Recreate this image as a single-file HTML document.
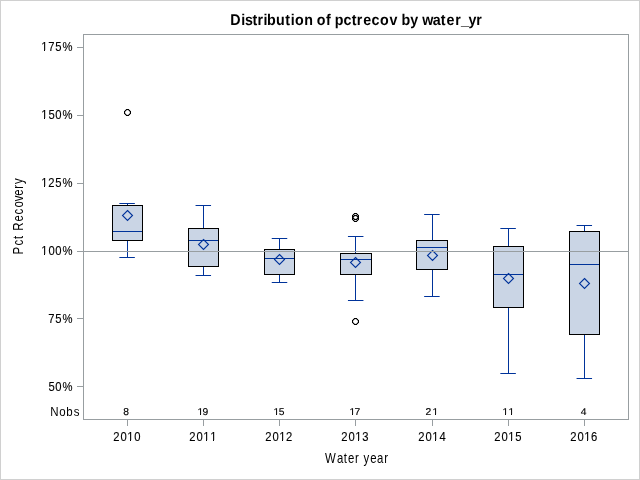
<!DOCTYPE html>
<html><head><meta charset="utf-8"><title>Distribution of pctrecov by water_yr</title>
<style>html,body{margin:0;padding:0;background:#fff;overflow:hidden}svg{display:block;will-change:transform}</style></head>
<body><svg width="640" height="480" viewBox="0 0 640 480">
<rect x="0.5" y="0.5" width="639" height="479" fill="#fff" stroke="#d0d0d0" stroke-width="1"/>
<line x1="127.5" y1="203.5" x2="127.5" y2="205" stroke="#00339a"/>
<line x1="127.5" y1="241" x2="127.5" y2="257.5" stroke="#00339a"/>
<line x1="119.35" y1="203.5" x2="134.85" y2="203.5" stroke="#00339a"/>
<line x1="119.35" y1="257.5" x2="134.85" y2="257.5" stroke="#00339a"/>
<rect x="112.5" y="205.5" width="30" height="35" fill="#cad5e5" stroke="#000"/>
<line x1="113" y1="231.5" x2="142" y2="231.5" stroke="#00339a"/>
<path d="M127.5 210.5L132.5 215.5L127.5 220.5L122.5 215.5Z" fill="none" stroke="#00339a" stroke-width="1.1"/>
<line x1="203.5" y1="205.5" x2="203.5" y2="228" stroke="#00339a"/>
<line x1="203.5" y1="267" x2="203.5" y2="275.5" stroke="#00339a"/>
<line x1="195.55" y1="205.5" x2="211.05" y2="205.5" stroke="#00339a"/>
<line x1="195.55" y1="275.5" x2="211.05" y2="275.5" stroke="#00339a"/>
<rect x="188.5" y="228.5" width="30" height="38" fill="#cad5e5" stroke="#000"/>
<line x1="189" y1="240.5" x2="218" y2="240.5" stroke="#00339a"/>
<path d="M203.5 239.5L208.5 244.5L203.5 249.5L198.5 244.5Z" fill="none" stroke="#00339a" stroke-width="1.1"/>
<line x1="279.5" y1="238.5" x2="279.5" y2="249" stroke="#00339a"/>
<line x1="279.5" y1="275" x2="279.5" y2="282.5" stroke="#00339a"/>
<line x1="271.75" y1="238.5" x2="287.25" y2="238.5" stroke="#00339a"/>
<line x1="271.75" y1="282.5" x2="287.25" y2="282.5" stroke="#00339a"/>
<rect x="264.5" y="249.5" width="30" height="25" fill="#cad5e5" stroke="#000"/>
<line x1="265" y1="258.5" x2="294" y2="258.5" stroke="#00339a"/>
<path d="M279.5 254.5L284.5 259.5L279.5 264.5L274.5 259.5Z" fill="none" stroke="#00339a" stroke-width="1.1"/>
<line x1="355.5" y1="236.5" x2="355.5" y2="253" stroke="#00339a"/>
<line x1="355.5" y1="275" x2="355.5" y2="300.5" stroke="#00339a"/>
<line x1="347.95" y1="236.5" x2="363.45" y2="236.5" stroke="#00339a"/>
<line x1="347.95" y1="300.5" x2="363.45" y2="300.5" stroke="#00339a"/>
<rect x="340.5" y="253.5" width="31" height="21" fill="#cad5e5" stroke="#000"/>
<line x1="341" y1="259.5" x2="371" y2="259.5" stroke="#00339a"/>
<path d="M355.5 257.5L360.5 262.5L355.5 267.5L350.5 262.5Z" fill="none" stroke="#00339a" stroke-width="1.1"/>
<line x1="432.5" y1="214.5" x2="432.5" y2="240" stroke="#00339a"/>
<line x1="432.5" y1="270" x2="432.5" y2="296.5" stroke="#00339a"/>
<line x1="424.15" y1="214.5" x2="439.65" y2="214.5" stroke="#00339a"/>
<line x1="424.15" y1="296.5" x2="439.65" y2="296.5" stroke="#00339a"/>
<rect x="416.5" y="240.5" width="31" height="29" fill="#cad5e5" stroke="#000"/>
<line x1="417" y1="247.5" x2="447" y2="247.5" stroke="#00339a"/>
<path d="M432.5 250.5L437.5 255.5L432.5 260.5L427.5 255.5Z" fill="none" stroke="#00339a" stroke-width="1.1"/>
<line x1="508.5" y1="228.5" x2="508.5" y2="246" stroke="#00339a"/>
<line x1="508.5" y1="308" x2="508.5" y2="373.5" stroke="#00339a"/>
<line x1="500.35" y1="228.5" x2="515.85" y2="228.5" stroke="#00339a"/>
<line x1="500.35" y1="373.5" x2="515.85" y2="373.5" stroke="#00339a"/>
<rect x="493.5" y="246.5" width="30" height="61" fill="#cad5e5" stroke="#000"/>
<line x1="494" y1="274.5" x2="523" y2="274.5" stroke="#00339a"/>
<path d="M508.5 273.5L513.5 278.5L508.5 283.5L503.5 278.5Z" fill="none" stroke="#00339a" stroke-width="1.1"/>
<line x1="584.5" y1="225.5" x2="584.5" y2="231" stroke="#00339a"/>
<line x1="584.5" y1="335" x2="584.5" y2="378.5" stroke="#00339a"/>
<line x1="576.55" y1="225.5" x2="592.05" y2="225.5" stroke="#00339a"/>
<line x1="576.55" y1="378.5" x2="592.05" y2="378.5" stroke="#00339a"/>
<rect x="569.5" y="231.5" width="30" height="103" fill="#cad5e5" stroke="#000"/>
<line x1="570" y1="264.5" x2="599" y2="264.5" stroke="#00339a"/>
<path d="M584.5 278.5L589.5 283.5L584.5 288.5L579.5 283.5Z" fill="none" stroke="#00339a" stroke-width="1.1"/>
<circle cx="127.5" cy="112.5" r="2.9" fill="none" stroke="#000" stroke-width="1.0"/>
<path d="M126 109h1v1h-1zM127 109h1v1h-1zM128 109h1v1h-1zM125 110h1v1h-1zM129 110h1v1h-1zM124 111h1v1h-1zM130 111h1v1h-1zM124 112h1v1h-1zM130 112h1v1h-1zM124 113h1v1h-1zM130 113h1v1h-1zM125 114h1v1h-1zM129 114h1v1h-1zM126 115h1v1h-1zM127 115h1v1h-1zM128 115h1v1h-1z" fill="#000" shape-rendering="crispEdges"/>
<circle cx="355.5" cy="216.5" r="2.9" fill="none" stroke="#000" stroke-width="1.0"/>
<path d="M354 213h1v1h-1zM355 213h1v1h-1zM356 213h1v1h-1zM353 214h1v1h-1zM357 214h1v1h-1zM352 215h1v1h-1zM358 215h1v1h-1zM352 216h1v1h-1zM358 216h1v1h-1zM352 217h1v1h-1zM358 217h1v1h-1zM353 218h1v1h-1zM357 218h1v1h-1zM354 219h1v1h-1zM355 219h1v1h-1zM356 219h1v1h-1z" fill="#000" shape-rendering="crispEdges"/>
<circle cx="355.5" cy="218.5" r="2.9" fill="none" stroke="#000" stroke-width="1.0"/>
<path d="M354 215h1v1h-1zM355 215h1v1h-1zM356 215h1v1h-1zM353 216h1v1h-1zM357 216h1v1h-1zM352 217h1v1h-1zM358 217h1v1h-1zM352 218h1v1h-1zM358 218h1v1h-1zM352 219h1v1h-1zM358 219h1v1h-1zM353 220h1v1h-1zM357 220h1v1h-1zM354 221h1v1h-1zM355 221h1v1h-1zM356 221h1v1h-1z" fill="#000" shape-rendering="crispEdges"/>
<circle cx="355.5" cy="321.5" r="2.9" fill="none" stroke="#000" stroke-width="1.0"/>
<path d="M354 318h1v1h-1zM355 318h1v1h-1zM356 318h1v1h-1zM353 319h1v1h-1zM357 319h1v1h-1zM352 320h1v1h-1zM358 320h1v1h-1zM352 321h1v1h-1zM358 321h1v1h-1zM352 322h1v1h-1zM358 322h1v1h-1zM353 323h1v1h-1zM357 323h1v1h-1zM354 324h1v1h-1zM355 324h1v1h-1zM356 324h1v1h-1z" fill="#000" shape-rendering="crispEdges"/>
<line x1="84" y1="251.5" x2="628" y2="251.5" stroke="#989ea1"/>
<rect x="83.5" y="34.5" width="545" height="385" fill="none" stroke="#989ea1"/>
<line x1="77" y1="47.5" x2="83" y2="47.5" stroke="#989ea1"/>
<line x1="77" y1="115.5" x2="83" y2="115.5" stroke="#989ea1"/>
<line x1="77" y1="183.5" x2="83" y2="183.5" stroke="#989ea1"/>
<line x1="77" y1="251.5" x2="83" y2="251.5" stroke="#989ea1"/>
<line x1="77" y1="318.5" x2="83" y2="318.5" stroke="#989ea1"/>
<line x1="77" y1="386.5" x2="83" y2="386.5" stroke="#989ea1"/>
<line x1="127.5" y1="420" x2="127.5" y2="426" stroke="#989ea1"/>
<line x1="203.5" y1="420" x2="203.5" y2="426" stroke="#989ea1"/>
<line x1="279.5" y1="420" x2="279.5" y2="426" stroke="#989ea1"/>
<line x1="355.5" y1="420" x2="355.5" y2="426" stroke="#989ea1"/>
<line x1="432.5" y1="420" x2="432.5" y2="426" stroke="#989ea1"/>
<line x1="508.5" y1="420" x2="508.5" y2="426" stroke="#989ea1"/>
<line x1="584.5" y1="420" x2="584.5" y2="426" stroke="#989ea1"/>
<g font-family="'Liberation Sans', Arial, sans-serif" fill="#000" style="font-kerning:none">
<text transform="scale(0.92,1)" x="250.243 262.148 266.224 274.376 279.906 286.550 290.345 299.916 309.974 316.116 320.700 330.671 336.106 344.396 354.472 359.907 363.905 373.412 382.283 387.705 394.728 403.847 413.064 423.248 428.682 436.323 445.888 451.323 459.033 470.522 479.104 485.325 494.797 501.024 509.312 517.678" y="25" font-size="15.5px" font-weight="bold" text-rendering="geometricPrecision">Distribution of pctrecov by water_yr</text>
<text transform="scale(0.9,1)" x="45.751 53.696 61.500 69.439" y="51.000" font-size="12.5px" stroke="#000" stroke-width="0.12">175%</text>
<text transform="scale(0.9,1)" x="45.751 53.833 61.512 69.439" y="119.000" font-size="12.5px" stroke="#000" stroke-width="0.12">150%</text>
<text transform="scale(0.9,1)" x="45.751 53.708 61.500 69.439" y="187.000" font-size="12.5px" stroke="#000" stroke-width="0.12">125%</text>
<text transform="scale(0.9,1)" x="45.751 53.846 61.512 69.439" y="255.000" font-size="12.5px" stroke="#000" stroke-width="0.12">100%</text>
<text transform="scale(0.9,1)" x="53.696 61.500 69.439" y="323.000" font-size="12.5px" stroke="#000" stroke-width="0.12">75%</text>
<text transform="scale(0.9,1)" x="53.833 61.512 69.439" y="391.000" font-size="12.5px" stroke="#000" stroke-width="0.12">50%</text>
<text transform="scale(0.9,1)" x="125.819 133.957 141.307 149.179" y="441.000" font-size="12.5px" stroke="#000" stroke-width="0.12">2010</text>
<text transform="scale(1.0,0.96)" x="123.357" y="432.292" font-size="10.3px" text-rendering="geometricPrecision" stroke="#000" stroke-width="0.15">8</text>
<text transform="scale(0.9,1)" x="210.264 218.401 225.751 233.529" y="441.000" font-size="12.5px" stroke="#000" stroke-width="0.12">2011</text>
<text transform="scale(1.0,0.96)" x="197.415 202.616" y="432.292" font-size="10.3px" text-rendering="geometricPrecision" stroke="#000" stroke-width="0.15">19</text>
<text transform="scale(0.9,1)" x="294.708 302.846 310.196 317.931" y="441.000" font-size="12.5px" stroke="#000" stroke-width="0.12">2012</text>
<text transform="scale(1.0,0.96)" x="273.415 278.688" y="432.292" font-size="10.3px" text-rendering="geometricPrecision" stroke="#000" stroke-width="0.15">15</text>
<text transform="scale(0.9,1)" x="379.153 387.290 394.640 402.525" y="441.000" font-size="12.5px" stroke="#000" stroke-width="0.12">2013</text>
<text transform="scale(1.0,0.96)" x="349.415 354.575" y="432.292" font-size="10.3px" text-rendering="geometricPrecision" stroke="#000" stroke-width="0.15">17</text>
<text transform="scale(0.9,1)" x="464.708 472.846 480.196 488.268" y="441.000" font-size="12.5px" stroke="#000" stroke-width="0.12">2014</text>
<text transform="scale(1.0,0.96)" x="425.385 432.415" y="432.292" font-size="10.3px" text-rendering="geometricPrecision" stroke="#000" stroke-width="0.15">21</text>
<text transform="scale(0.9,1)" x="549.153 557.290 564.640 572.500" y="441.000" font-size="12.5px" stroke="#000" stroke-width="0.12">2015</text>
<text transform="scale(1.0,0.96)" x="502.415 508.415" y="432.292" font-size="10.3px" text-rendering="geometricPrecision" stroke="#000" stroke-width="0.15">11</text>
<text transform="scale(0.9,1)" x="633.597 641.735 649.085 656.807" y="441.000" font-size="12.5px" stroke="#000" stroke-width="0.12">2016</text>
<text transform="scale(1.0,0.96)" x="580.663" y="432.292" font-size="10.3px" text-rendering="geometricPrecision" stroke="#000" stroke-width="0.15">4</text>
<text transform="scale(0.92,1)" x="54.720 64.460 71.985 80.077" y="416" font-size="12.5px">Nobs</text>
<text transform="scale(0.82,1)" x="396.493 411.030 419.362 424.330 433.079 437.957 443.357 451.525 459.627 468.506" y="463" font-size="13.89px">Water year</text>
<text transform="translate(23,0) rotate(-90) scale(0.82,1)" x="-310.322 -299.247 -291.552 -286.674 -281.301 -270.121 -261.504 -252.947 -245.417 -238.719 -230.214 -224.509" y="0" font-size="13.89px">Pct Recovery</text>
<rect x="41.70" y="50" width="2.30" height="1" fill="#fff"/>
<rect x="45.00" y="50" width="2.00" height="1" fill="#fff"/>
<rect x="41.70" y="118" width="2.30" height="1" fill="#fff"/>
<rect x="45.00" y="118" width="2.00" height="1" fill="#fff"/>
<rect x="41.70" y="186" width="2.30" height="1" fill="#fff"/>
<rect x="45.00" y="186" width="2.00" height="1" fill="#fff"/>
<rect x="41.70" y="254" width="2.30" height="1" fill="#fff"/>
<rect x="45.00" y="254" width="2.00" height="1" fill="#fff"/>
<rect x="127.70" y="440" width="2.30" height="1" fill="#fff"/>
<rect x="131.00" y="440" width="2.00" height="1" fill="#fff"/>
<rect x="203.70" y="440" width="2.30" height="1" fill="#fff"/>
<rect x="207.00" y="440" width="2.00" height="1" fill="#fff"/>
<rect x="210.70" y="440" width="2.30" height="1" fill="#fff"/>
<rect x="214.00" y="440" width="2.00" height="1" fill="#fff"/>
<rect x="197.70" y="414" width="2.30" height="1" fill="#fff"/>
<rect x="201.00" y="414" width="2.00" height="1" fill="#fff"/>
<rect x="279.70" y="440" width="2.30" height="1" fill="#fff"/>
<rect x="283.00" y="440" width="2.00" height="1" fill="#fff"/>
<rect x="273.70" y="414" width="2.30" height="1" fill="#fff"/>
<rect x="277.00" y="414" width="2.00" height="1" fill="#fff"/>
<rect x="355.70" y="440" width="2.30" height="1" fill="#fff"/>
<rect x="359.00" y="440" width="2.00" height="1" fill="#fff"/>
<rect x="349.70" y="414" width="2.30" height="1" fill="#fff"/>
<rect x="353.00" y="414" width="2.00" height="1" fill="#fff"/>
<rect x="432.70" y="440" width="2.30" height="1" fill="#fff"/>
<rect x="436.00" y="440" width="2.00" height="1" fill="#fff"/>
<rect x="432.70" y="414" width="2.30" height="1" fill="#fff"/>
<rect x="436.00" y="414" width="2.00" height="1" fill="#fff"/>
<rect x="508.70" y="440" width="2.30" height="1" fill="#fff"/>
<rect x="512.00" y="440" width="2.00" height="1" fill="#fff"/>
<rect x="502.70" y="414" width="2.30" height="1" fill="#fff"/>
<rect x="506.00" y="414" width="2.00" height="1" fill="#fff"/>
<rect x="508.70" y="414" width="2.30" height="1" fill="#fff"/>
<rect x="512.00" y="414" width="2.00" height="1" fill="#fff"/>
<rect x="584.70" y="440" width="2.30" height="1" fill="#fff"/>
<rect x="588.00" y="440" width="2.00" height="1" fill="#fff"/>
</g>
</svg></body></html>
